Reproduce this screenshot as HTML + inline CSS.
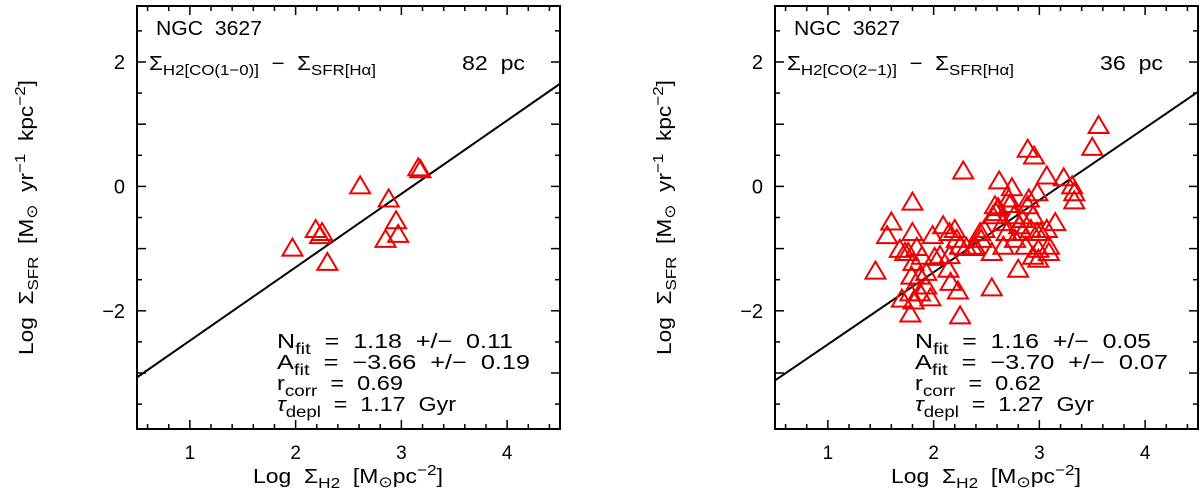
<!DOCTYPE html>
<html><head><meta charset="utf-8"><style>
html,body{margin:0;padding:0;background:#fff;}
svg{display:block;font-family:"Liberation Sans",Arial,sans-serif;}
text{white-space:pre;}
</style></head><body>
<svg id="fig" width="1200" height="493" viewBox="0 0 1200 493" xmlns="http://www.w3.org/2000/svg" xml:space="preserve">
<g id="p1"></g>
<g id="p2"></g>
</svg>
<script>
// ---- data ----
const xTicks = [1, 2, 3, 4];
const yTicks = [-2, 0, 2];
const leftX = [1.97,2.19,2.25,2.23,2.30,2.61,2.88,2.85,2.95,2.97,3.16,3.18];
const leftY = [-1.00,-0.70,-0.75,-0.80,-1.23,0.00,-0.21,-0.86,-0.56,-0.78,0.29,0.26];
const leftFit = [1.18, -3.66];
const rightX = [1.45,1.60,1.56,1.80,1.80,1.68,1.76,1.84,1.89,1.81,1.79,1.87,1.93,1.70,1.78,1.87,1.97,1.78,1.81,1.99,2.01,2.09,2.15,2.20,2.22,2.15,2.14,2.16,2.23,2.25,2.28,2.25,2.31,2.39,2.44,2.48,2.55,2.55,2.62,2.61,2.59,2.66,2.69,2.66,2.71,2.74,2.76,2.81,2.84,2.80,2.87,2.89,2.95,2.94,2.98,2.90,2.92,2.98,2.94,2.99,3.01,3.07,3.07,3.09,3.15,3.23,3.31,3.33,3.33,3.50,3.56,2.58,2.72,2.84,2.89,2.77,2.56,2.37,2.45,2.06,1.93,1.73,2.99,3.09];
const rightY = [-1.37,-0.58,-0.80,-0.26,-0.75,-1.02,-1.07,-0.99,-1.13,-1.23,-1.45,-1.45,-1.39,-1.82,-1.72,-1.72,-1.80,-2.06,-1.85,-0.80,-1.15,-0.64,-0.75,-0.70,-0.86,-1.12,-1.34,-1.55,-1.69,-2.09,0.24,-0.97,-0.99,-0.97,-0.75,-0.70,-1.07,-1.64,0.08,-0.35,-0.43,-0.59,-0.75,-0.97,-0.21,-0.03,-0.48,-0.64,-0.75,-1.34,-0.97,0.59,0.48,-0.48,-0.11,-0.21,-0.70,-0.75,-1.13,-1.02,-0.75,0.16,-0.70,-1.07,-0.59,0.13,0.00,-0.11,-0.24,0.62,0.97,-0.32,-0.30,-0.54,-0.32,-0.86,-0.48,-0.99,-0.86,-1.12,-1.61,-1.07,-1.18,-0.97];
const rightFit = [1.16, -3.70];

const NS = 'http://www.w3.org/2000/svg';
function mk(parent, tag, attrs, text) {
  const e = document.createElementNS(NS, tag);
  for (const k in attrs) e.setAttribute(k, attrs[k]);
  if (text !== undefined) e.textContent = text;
  parent.appendChild(e);
  return e;
}
function tsp(t, txt, dy, size) {
  const s = document.createElementNS(NS, 'tspan');
  if (dy) s.setAttribute('dy', dy);
  if (size) s.setAttribute('font-size', size);
  s.textContent = txt;
  t.appendChild(s);
  return s;
}
const FIT = {lengthAdjust: 'spacingAndGlyphs'};

function panel(g, L, xs, ys, fit, coLabel, res, stats, ylabX) {
  const T = 6, B = 429, W = 423;
  const xmin = 0.5, xmax = 4.5, ymin = -3.9, ymax = 2.9;
  const sx = v => L + (v - xmin) / (xmax - xmin) * W;
  const sy = v => B - (v - ymin) / (ymax - ymin) * (B - T);
  const axes = mk(g, 'g', {stroke: '#000', 'stroke-width': 2, fill: 'none'});
  
  
  mk(axes, 'rect', {x: L, y: T, width: W, height: B - T});
  for (let i = 3; i <= 22; i++) {
    const v = i * 0.2; if (v < xmin || v > xmax) continue;
    const major = Math.abs(v - Math.round(v)) < 1e-6;
    const len = major ? 9 : 5, X = sx(v);
    mk(axes, 'line', {x1: X, y1: B, x2: X, y2: B - len, 'stroke-width': 1.5});
    mk(axes, 'line', {x1: X, y1: T, x2: X, y2: T + len, 'stroke-width': 1.5});
  }
  for (let i = -7; i <= 5; i++) {
    const v = i * 0.5; if (v < ymin || v > ymax) continue;
    const major = i % 2 === 0;
    const len = major ? 9 : 5, Y = sy(v);
    mk(axes, 'line', {x1: L, y1: Y, x2: L + len, y2: Y, 'stroke-width': 1.5});
    mk(axes, 'line', {x1: L + W, y1: Y, x2: L + W - len, y2: Y, 'stroke-width': 1.5});
  }
  xTicks.forEach(v => {
    const t = mk(g, 'text', {x: sx(v), y: 459, 'font-size': 19, 'text-anchor': 'middle'}, String(v));
    
    
  });
  yTicks.forEach(v => {
    const t = mk(g, 'text', {x: L - 12, y: sy(v) + 7, 'font-size': 20, 'text-anchor': 'end'}, v < 0 ? '\u2212' + Math.abs(v) : String(v));
    
    
  });
  const ln = mk(g, 'line', {x1: sx(xmin), y1: sy(fit[0] * xmin + fit[1]), x2: sx(xmax), y2: sy(fit[0] * xmax + fit[1]), stroke: '#000', 'stroke-width': 2});
  
  
  const pts = mk(g, 'g', {stroke: '#e00', 'stroke-width': 2, fill: 'none'});
  
  
  xs.forEach((v, i) => {
    const X = sx(v), Y = sy(ys[i]);
    const p = mk(pts, 'polygon', {points: `${X - 10},${Y + 7} ${X + 10},${Y + 7} ${X},${Y - 10}`});
    
    
  });
  const ngc = mk(g, 'text', Object.assign({x: L + 19, y: 35, 'font-size': 20, textLength: 106}, FIT), 'NGC  3627');
  
  
  const rel = mk(g, 'text', Object.assign({x: L + 12, y: 70, 'font-size': 20, textLength: 227}, FIT));
  
  
  tsp(rel, '\u03A3'); tsp(rel, 'H2[CO(' + coLabel + ')]', 5, 15); tsp(rel, '  \u2212  \u03A3', -5); tsp(rel, 'SFR[H\u03B1]', 5, 15);
  const rs = mk(g, 'text', Object.assign({x: L + 325, y: 70, 'font-size': 20, textLength: 63}, FIT), res + '  pc');
  
  
  const names = [['N', 'fit'], ['A', 'fit'], ['r', 'corr'], ['\u03C4', 'depl']];
  const lens = [236, 253, 126, 179];
  stats.forEach((s, i) => {
    const t = mk(g, 'text', Object.assign({x: L + 140, y: 348 + i * 21, 'font-size': 20, textLength: lens[i]}, FIT));
    
    
    const a = tsp(t, names[i][0]); if (i === 3) a.setAttribute('font-style', 'italic');
    tsp(t, names[i][1], 6, 16); tsp(t, '  =  ' + s, -6);
  });
  const xt = mk(g, 'text', Object.assign({x: L + 116, y: 483, 'font-size': 20, textLength: 190}, FIT));
  
  
  tsp(xt, 'Log  \u03A3'); tsp(xt, 'H2', 5, 15); tsp(xt, '  [M', -5); tsp(xt, '\u2299', 4, 15); tsp(xt, 'pc', -4); tsp(xt, '\u22122', -8, 15); tsp(xt, ']', 8);
  const yt = mk(g, 'text', Object.assign({x: 0, y: 0, 'font-size': 20, textLength: 275, transform: `translate(${ylabX},355) rotate(-90)`}, FIT));
  
  
  tsp(yt, 'Log  \u03A3'); tsp(yt, 'SFR', 5, 15); tsp(yt, '  [M', -5); tsp(yt, '\u2299', 4, 15); tsp(yt, '  yr', -4); tsp(yt, '\u22121', -8, 15); tsp(yt, '  kpc', 8); tsp(yt, '\u22122', -8, 15); tsp(yt, ']', 8);
}
panel(document.getElementById('p1'), 137, leftX, leftY, leftFit, '1\u22120', '82',
  ['1.18  +/\u2212  0.11', '\u22123.66  +/\u2212  0.19', '0.69', '1.17  Gyr'], 33);
panel(document.getElementById('p2'), 775, rightX, rightY, rightFit, '2\u22121', '36',
  ['1.16  +/\u2212  0.05', '\u22123.70  +/\u2212  0.07', '0.62', '1.27  Gyr'], 671);
</script>
</body></html>
